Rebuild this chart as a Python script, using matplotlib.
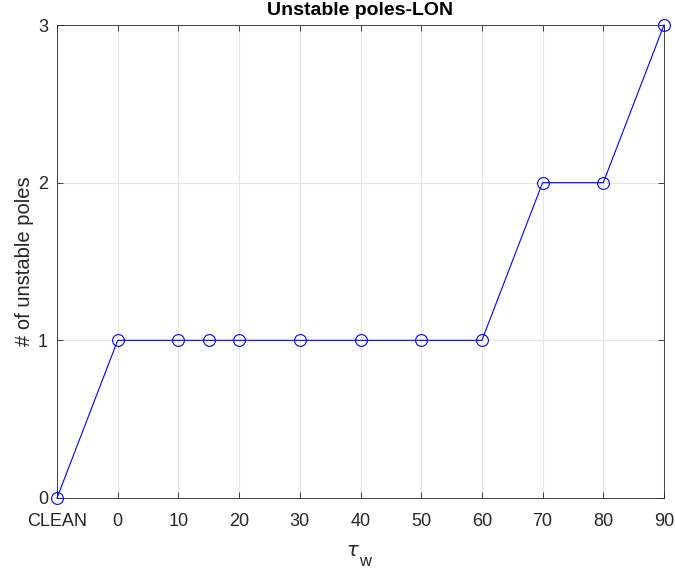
import matplotlib
matplotlib.use("Agg")
import matplotlib.pyplot as plt

plt.rcParams["font.family"] = ["Liberation Sans", "DejaVu Sans"]
plt.rcParams["mathtext.fontset"] = "custom"
plt.rcParams["mathtext.rm"] = "Liberation Sans"

# data
tau_w = [-10, 0, 10, 15, 20, 30, 40, 50, 60, 70, 80, 90]   # -10 = CLEAN
n_unstable = [0, 1, 1, 1, 1, 1, 1, 1, 1, 2, 2, 3]
xtick_pos = [-10, 0, 10, 20, 30, 40, 50, 60, 70, 80, 90]
xtick_lab = ["CLEAN", "0", "10", "20", "30", "40", "50", "60", "70", "80", "90"]
ytick_pos = [0, 1, 2, 3]

W, H = 675, 573
fig = plt.figure(figsize=(W/100, H/100), dpi=100)
ax = fig.add_axes([57/W, 1-498/H, (664-57)/W, (498-25)/H])

ax.plot(tau_w, n_unstable, color="#0000ff", lw=0.8, marker="o", ms=8.5,
        mfc="none", mec="#0000ff", mew=0.8, clip_on=False, zorder=3)

ax.set_xlim(-10, 90)
ax.set_ylim(0, 3)
ax.set_xticks(xtick_pos)
ax.set_xticklabels(xtick_lab)
ax.set_yticks(ytick_pos)
ax.grid(True, color="#e6e6e6", lw=0.8)
ax.set_axisbelow(True)
ax.tick_params(direction="in", top=True, right=True, length=4, width=0.6,
               colors="#262626", labelsize=13)
ax.tick_params(axis="x", pad=10.5)
ax.tick_params(axis="y", pad=6.5)
for s in ax.spines.values():
    s.set_color("#262626")
    s.set_linewidth(0.6)

ax.set_title("Unstable poles-LON", fontsize=14, fontweight="bold", pad=7)

# x label: tau with a large upright "w" subscript (MATLAB style)
ax.set_xlabel(r"$\tau$", fontsize=14, color="#262626")
ax.xaxis.set_label_coords((353-57)/607, -(551-498)/473)
ax.xaxis.label.set_va("center")
fig.text(365.5/W, 1-561/H, "w", fontsize=12, color="#262626",
         ha="center", va="center")

ax.set_ylabel("# of unstable poles", fontsize=14.5, color="#262626", labelpad=3)

fig.savefig("out.png", dpi=100, facecolor="white")
